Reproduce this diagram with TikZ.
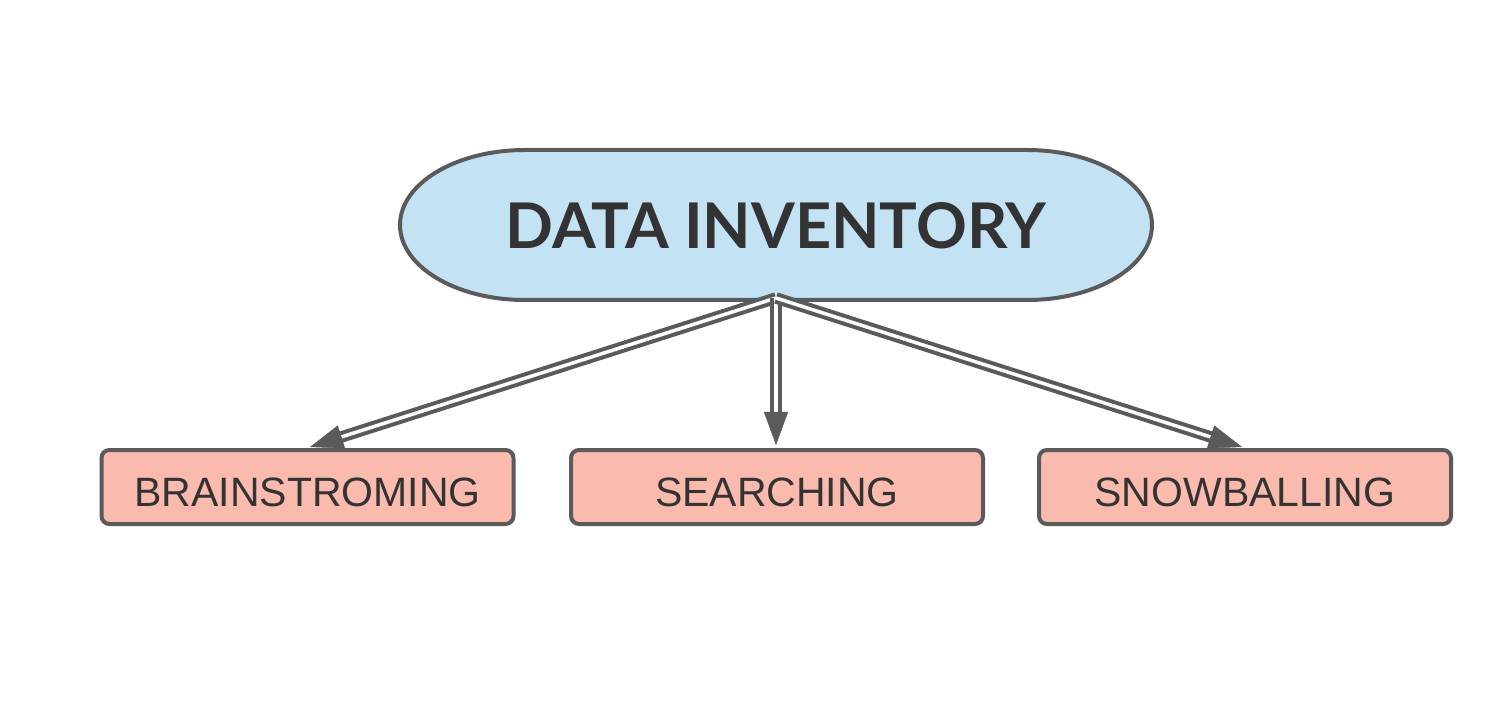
\documentclass[tikz,border=0pt]{standalone}
\usepackage{fontspec}
\setmainfont{Liberation Sans}
\newfontfamily\latofont{Lato}
\usetikzlibrary{arrows.meta,calc}
\definecolor{edge}{HTML}{5A5A5A}
\definecolor{bluefill}{HTML}{C3E3F5}
\definecolor{pinkfill}{HTML}{FABAAE}
\definecolor{txt}{HTML}{333333}
\tikzset{
  leaf/.style={draw=edge, line width=4pt, fill=pinkfill, rounded corners=8pt,
    minimum width=412pt, minimum height=74pt, inner sep=0pt, text=txt,
    text height=39pt, text depth=0pt,
    font=\fontsize{41}{46}\selectfont},
  dblline/.style={draw=edge, line width=4pt, double=white, double distance=3.5pt},
  headonly/.style={draw=edge, fill=edge, line width=0.5pt,
    -{Triangle[length=33pt,width=24pt]}},
}
\begin{document}
\begin{tikzpicture}[x=1pt,y=1pt]
\useasboundingbox (0,0) rectangle (1500,724);
% top pill shape
\path[draw=edge, line width=4pt, fill=bluefill]
  (525,574) -- (1027,574)
  arc[start angle=90, end angle=-90, x radius=125, y radius=75]
  -- (525,424)
  arc[start angle=270, end angle=90, x radius=125, y radius=75] -- cycle;
\node[text=txt, font=\latofont\bfseries\fontsize{63}{68}\selectfont] (top) at (776,498) {DATA INVENTORY};
\coordinate (src) at (776,426);
% leaves
\node[leaf] (b1) at (307.5,237) {BRAINSTROMING};
\node[leaf] (b2) at (777,237) {SEARCHING};
\node[leaf] (b3) at (1245,237) {SNOWBALLING};
\coordinate (t1) at (310,277);
\coordinate (t2) at (776,279);
\coordinate (t3) at (1242,277);
% connectors
\foreach \t in {t1,t2,t3}{
  \draw[dblline] (src) -- ($(\t)!28pt!(src)$);
  \draw[headonly] ($(\t)!20pt!(src)$) -- (\t);
}
\end{tikzpicture}
\end{document}
